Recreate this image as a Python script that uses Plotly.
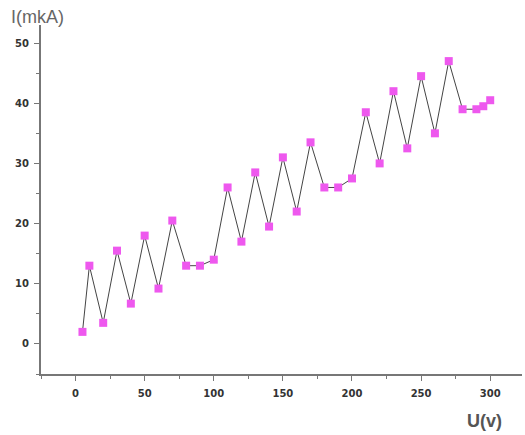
import plotly.graph_objects as go

u_volts = [5, 10, 20, 30, 40, 50, 60, 70, 80, 90, 100, 110, 120, 130, 140, 150,
           160, 170, 180, 190, 200, 210, 220, 230, 240, 250, 260, 270, 280, 290, 295, 300]
i_mka = [2, 13, 3.5, 15.5, 6.7, 18, 9.2, 20.5, 13, 13, 14, 26, 17, 28.5, 19.5, 31,
         22, 33.5, 26, 26, 27.5, 38.5, 30, 42, 32.5, 44.5, 35, 47, 39, 39, 39.5, 40.5]

x_ticks = [0, 50, 100, 150, 200, 250, 300]
y_ticks = [0, 10, 20, 30, 40, 50]

fig = go.Figure()
fig.add_trace(go.Scatter(
    x=u_volts, y=i_mka, mode="lines+markers",
    line=dict(color="#444444", width=1),
    marker=dict(symbol="square", size=8, color="#EE58EE", line=dict(width=0)),
    showlegend=False,
))

tickfont = dict(family="DejaVu Sans", size=10, color="#333333", weight="bold")

fig.update_layout(
    width=525, height=435,
    margin=dict(l=41, r=3, t=25, b=61),
    paper_bgcolor="white", plot_bgcolor="white",
    xaxis=dict(
        range=[-25, 323], tickvals=x_ticks, ticks="outside", ticklen=5,
        tickcolor="#777777", tickwidth=1,
        showline=True, linecolor="#777777", linewidth=2,
        showgrid=False, zeroline=False, tickfont=tickfont,
        minor=dict(dtick=25, tick0=0, ticks="outside", ticklen=3, tickcolor="#777777", showgrid=False),
        ticklabelstandoff=4,
    ),
    yaxis=dict(
        range=[-5, 53], tickvals=y_ticks, ticks="outside", ticklen=5,
        tickcolor="#777777", tickwidth=1,
        showline=True, linecolor="#777777", linewidth=2,
        showgrid=False, zeroline=False, tickfont=tickfont,
        minor=dict(dtick=5, tick0=0, ticks="outside", ticklen=3, tickcolor="#777777", showgrid=False),
        ticklabelstandoff=3,
    ),
    annotations=[
        dict(text="I(mkA)", xref="paper", yref="paper", x=(9 - 41) / 481, y=1 + 8 / 349,
             xanchor="left", yanchor="middle", showarrow=False,
             font=dict(family="Liberation Sans", size=18, color="#666666")),
        dict(text="U(v)", xref="paper", yref="paper", x=(504 - 41) / 481, y=-(421 - 374) / 349,
             xanchor="right", yanchor="middle", showarrow=False,
             font=dict(family="Liberation Sans", size=18, color="#555555", weight="bold")),
    ],
)

fig.write_html("out.html")
